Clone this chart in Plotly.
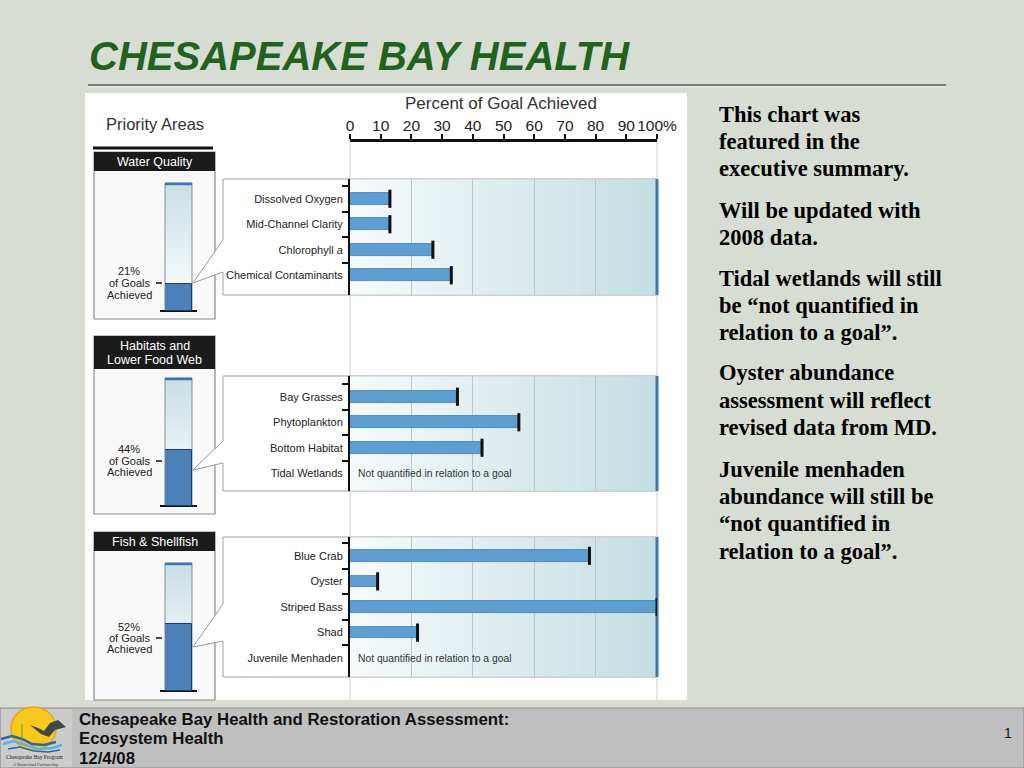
import plotly.graph_objects as go

# ---------------- data ----------------
wq_cats = ["Dissolved Oxygen", "Mid-Channel Clarity", "Chlorophyll <i>a</i>", "Chemical Contaminants"]
wq_vals = [13, 13, 27, 33]
hab_cats = ["Bay Grasses", "Phytoplankton", "Bottom Habitat", "Tidal Wetlands"]
hab_vals = [35, 55, 43, None]
fish_cats = ["Blue Crab", "Oyster", "Striped Bass", "Shad", "Juvenile Menhaden"]
fish_vals = [78, 9, 100, 22, None]
area_names = [["Water Quality"], ["Habitats and", "Lower Food Web"], ["Fish & Shellfish"]]
area_pcts = [21, 44, 52]
axis_ticks = [0, 10, 20, 30, 40, 50, 60, 70, 80, 90, 100]
axis_labels = ["0", "10", "20", "30", "40", "50", "60", "70", "80", "90", "100%"]
grid_ticks = [20, 40, 60, 80]
not_quant = "Not quantified in relation to a goal"
notes = [
    ["This chart was", "featured in the", "executive summary."],
    ["Will be updated with", "2008 data."],
    ["Tidal wetlands will still", "be \u201cnot quantified in", "relation to a goal\u201d."],
    ["Oyster abundance", "assessment will reflect", "revised data from MD."],
    ["Juvenile menhaden", "abundance will still be", "\u201cnot quantified in", "relation to a goal\u201d."],
]
footer_lines = ["Chesapeake Bay Health and Restoration Assessment:", "Ecosystem Health", "12/4/08"]

# ---------------- geometry / style ----------------
W, H = 1024, 768
SANS = "Liberation Sans, Arial, Helvetica, sans-serif"
SERIF = "Liberation Serif, Times New Roman, serif"
AX_X0, AX_X1 = 350, 657
panels = [(179, 295, 7, 7), (376, 491, 8, 5), (537, 677, 6, 6)]   # top, bottom, pad top, pad bottom (px)
gauges = [(183, 311), (378, 506), (563, 691)]
boxes = [(152, 319, 171), (336, 514, 369), (532, 700, 551)]
wedges = [((193, 283), (223, 240), (223, 272)),
          ((193, 470), (223, 441), (223, 463)),
          ((193, 647), (223, 604), (223, 641))]
pct_text_y = [(271, 283, 295), (449, 461, 472), (627, 638, 649)]

fig = go.Figure()


def px(x):
    return x / W


def py(y):
    return 1 - y / H


def hex2rgb(c):
    c = c.lstrip('#')
    return tuple(int(c[i:i + 2], 16) for i in (0, 2, 4))


def mix(c1, c2, t):
    a, b = hex2rgb(c1), hex2rgb(c2)
    return 'rgb(%d,%d,%d)' % tuple(round(a[i] + (b[i] - a[i]) * t) for i in range(3))


shapes = []
ann = []


def rect(x0, y0, x1, y1, fill=None, line=None, lw=1, layer='below'):
    shapes.append(dict(type='rect', xref='paper', yref='paper', x0=px(x0), x1=px(x1), y0=py(y1), y1=py(y0),
                       fillcolor=fill or 'rgba(0,0,0,0)',
                       line=dict(color=line or 'rgba(0,0,0,0)', width=lw if line else 0), layer=layer))


def seg(x0, y0, x1, y1, color, w, layer='below'):
    shapes.append(dict(type='line', xref='paper', yref='paper', x0=px(x0), y0=py(y0), x1=px(x1), y1=py(y1),
                       line=dict(color=color, width=w), layer=layer))


def path(pts, fill=None, line=None, lw=1, close=False, layer='below'):
    d = 'M ' + ' L '.join('%.5f %.5f' % (px(x), py(y)) for x, y in pts) + (' Z' if close else '')
    shapes.append(dict(type='path', xref='paper', yref='paper', path=d, fillcolor=fill or 'rgba(0,0,0,0)',
                       line=dict(color=line or 'rgba(0,0,0,0)', width=lw if line else 0), layer=layer))


def text(x, y, t, size, color='#222', xanchor='center', family=SANS, yanchor='middle'):
    ann.append(dict(xref='paper', yref='paper', x=px(x), y=py(y), text=t, showarrow=False,
                    font=dict(size=size, color=color, family=family), xanchor=xanchor, yanchor=yanchor))


# ---------------- background decorations ----------------
text(87, 56, "<b><i>CHESAPEAKE BAY HEALTH</i></b>", 40, '#22621f', xanchor='left')
seg(88, 85, 946, 85, '#5c5c5c', 1.5)
seg(88, 87, 946, 87, '#eef0ec', 1)

rect(85, 93, 687, 700, fill='white')
text(501, 104, "Percent of Goal Achieved", 17, '#333')
text(155, 124, "Priority Areas", 16.5, '#333')
seg(93, 148, 213, 148, '#111', 3)

seg(AX_X0, 140, AX_X0, 700, '#cfcfcf', 1)
seg(AX_X1, 140, AX_X1, 700, '#cfcfcf', 1)

# priority boxes
for (top, bot, hb), names, pct, (gt, gb), tys, wd in zip(boxes, area_names, area_pcts, gauges, pct_text_y, wedges):
    rect(94, top, 215, bot, fill='#f8f8f8', line='#8a8a8a', lw=1.2)
    rect(94, top, 215, hb, fill='#1b1b1b')
    if len(names) == 1:
        text(154.5, (top + hb) / 2 + 0.5, names[0], 12.5, 'white')
    else:
        text(154.5, top + 10, names[0], 12.5, 'white')
        text(154.5, top + 24, names[1], 12.5, 'white')
    n = 16
    for k in range(n):
        y0 = gt + (gb - gt) * k / n
        y1 = gt + (gb - gt) * (k + 1) / n + 0.6
        rect(165, y0, 192, y1, fill=mix('#c9e0e6', '#ffffff', k / (n - 1)))
    rect(165, gt, 192, gb, line='#8c8c8c', lw=1)
    seg(165, gt + 1, 192, gt + 1, '#3a76b0', 2.5)
    seg(160, gb, 197, gb, '#111', 2)
    text(129, tys[0], "%d%%" % pct, 11, '#222')
    text(129, tys[1], "of Goals", 11, '#222')
    text(129, tys[2], "Achieved", 11, '#222')
    seg(156, tys[1], 162, tys[1], '#111', 1.5)

# callout boxes with gradient plot areas
for (T, B, pt, pb), wd in zip(panels, wedges):
    rect(223, T, AX_X1, B, fill='white', line='#a0a0a0', lw=1)
    n = 40
    for k in range(n):
        x0 = AX_X0 + (AX_X1 - AX_X0) * k / n
        x1 = AX_X0 + (AX_X1 - AX_X0) * (k + 1) / n + 0.6
        rect(x0, T + 0.5, min(x1, AX_X1), B - 0.5, fill=mix('#f6fafb', '#c5dee2', k / (n - 1)))
    seg(AX_X1, T, AX_X1, B, '#3b77b1', 3)
    apex, p1, p2 = wd
    path([p1, apex, p2, (p2[0] + 1.5, p2[1]), (p1[0] + 1.5, p1[1])], fill='white', close=True)
    path([p1, apex, p2], line='#9a9a9a', lw=1)

# footer
rect(0, 708, 1024, 768, fill='#bfbfbf', line='#8c8c8c', lw=1)
rect(1, 709, 72, 767, fill='#cccccc')
shapes.append(dict(type='circle', xref='paper', yref='paper', x0=px(11), x1=px(56), y0=py(750), y1=py(707),
                   fillcolor='#f8c81c', line=dict(color='#eaa516', width=1.5), layer='below'))
path([(30, 725), (38, 728), (44, 731), (50, 723), (58, 720), (66, 727), (55, 730), (49, 737), (41, 734)],
     fill='#3f4a48', close=True)
path([(1, 739), (12, 736), (22, 739), (32, 744), (44, 745), (56, 742)], line='#2a64ad', lw=2.5)
path([(3, 744), (14, 741), (26, 745), (38, 749), (52, 748), (62, 745)], line='#5ab3e0', lw=2.5)
path([(8, 749), (20, 747), (34, 751), (48, 752), (60, 750)], line='#2a64ad', lw=1.5)
path([(22, 742), (22, 724)], line='#6f9a3a', lw=1)
text(35, 757, "Chesapeake Bay Program", 5.5, '#222', family=SERIF)
text(35, 764, "<i>A Watershed Partnership</i>", 4.5, '#333', family=SERIF)
for i, t in enumerate(footer_lines):
    text(77, 719 + 19.5 * i, "<b>%s</b>" % t, 16.8, '#111', xanchor='left')
text(1008, 733, "1", 14, '#111')

# right notes
note_y = [[114, 141, 168], [210, 237], [278, 305, 332], [373, 400, 427], [469, 496, 523, 551]]
for para, ys in zip(notes, note_y):
    for line, y in zip(para, ys):
        text(717, y, "<b>%s</b>" % line, 22.5, '#000', xanchor='left', family=SERIF)

# ---------------- traces ----------------
groups = [(wq_cats, wq_vals), (hab_cats, hab_vals), (fish_cats, fish_vals)]
layout_axes = {}
for i, ((cats, vals), (T, B, pt, pb)) in enumerate(zip(groups, panels)):
    s = '' if i == 0 else str(i + 1)
    xa, ya = 'x' + s, 'y' + s
    nc = len(cats)
    c = (B - T - pt - pb) / nc
    fig.add_trace(go.Bar(x=vals, y=cats, orientation='h', xaxis=xa, yaxis=ya, width=0.46,
                         marker=dict(color='#5e9ed0', line=dict(color='#3d7bb2', width=0.8)),
                         hoverinfo='x+y', showlegend=False))
    cx = [v for v in vals if v is not None]
    cy = [cat for cat, v in zip(cats, vals) if v is not None]
    fig.add_trace(go.Scatter(x=cx, y=cy, mode='markers', xaxis=xa, yaxis=ya, hoverinfo='skip',
                             marker=dict(symbol='line-ns', size=13, line=dict(width=3, color='#111')),
                             showlegend=False))
    for j, (cat, v) in enumerate(zip(cats, vals)):
        if v is None:
            ann.append(dict(xref=xa, yref=ya, x=2.0, y=j, text=not_quant, showarrow=False, xanchor='left',
                            font=dict(size=10.3, color='#333', family=SANS)))
    layout_axes['xaxis' + s] = dict(domain=[px(AX_X0), px(AX_X1)], range=[0, 100], anchor=ya,
                                    tickmode='array', tickvals=grid_ticks, showticklabels=False, ticks='',
                                    showgrid=True, gridcolor='#b7c7cb', gridwidth=1, zeroline=False,
                                    showline=False, fixedrange=True, automargin=False)
    layout_axes['yaxis' + s] = dict(domain=[py(B), py(T)], type='category', anchor=xa,
                                    categoryorder='array', categoryarray=cats,
                                    range=[nc - 0.5 + pb / c, -0.5 - pt / c],
                                    tickson='boundaries', ticks='outside', ticklen=6, tickwidth=2,
                                    tickcolor='#111', showline=True, linecolor='#111', linewidth=2,
                                    showgrid=False, zeroline=False, automargin=False, ticklabelstandoff=3,
                                    tickfont=dict(size=11, color='#222', family=SANS), fixedrange=True)

# top axis (overlay)
fig.add_trace(go.Scatter(x=[0], y=[wq_cats[0]], xaxis='x4', yaxis='y', mode='markers',
                         marker=dict(opacity=0), hoverinfo='skip', showlegend=False))
layout_axes['xaxis4'] = dict(overlaying='x', side='top', anchor='free', position=py(140),
                             domain=[px(AX_X0), px(AX_X1)], range=[0, 100], tickmode='array',
                             tickvals=axis_ticks, ticktext=axis_labels, ticks='outside', ticklen=5,
                             tickwidth=1.5, tickcolor='#111', showline=True, linewidth=3, linecolor='#111',
                             showgrid=False, zeroline=False, automargin=False, tickangle=0,
                             ticklabelstandoff=-3,
                             tickfont=dict(size=15.5, color='#222', family=SANS), fixedrange=True)

# gauges
for k, (pct, (gt, gb)) in enumerate(zip(area_pcts, gauges)):
    s = str(k + 5)
    fig.add_trace(go.Bar(x=[0], y=[pct], width=1, xaxis='x' + s, yaxis='y' + s,
                         marker=dict(color='#4b80b8', line=dict(color='#1f3d63', width=1)),
                         hoverinfo='y', showlegend=False))
    layout_axes['xaxis' + s] = dict(domain=[px(165), px(192)], range=[-0.5, 0.5], visible=False,
                                    anchor='y' + s, fixedrange=True, automargin=False)
    layout_axes['yaxis' + s] = dict(domain=[py(gb), py(gt)], range=[0, 100], visible=False,
                                    anchor='x' + s, fixedrange=True, automargin=False)

fig.update_layout(width=W, height=H, autosize=False,
                  margin=dict(l=0, r=0, t=0, b=0, pad=0, autoexpand=False),
                  paper_bgcolor='#d8ddd4', plot_bgcolor='rgba(0,0,0,0)',
                  showlegend=False, shapes=shapes, annotations=ann, bargap=0, **layout_axes)
fig.write_html("out.html", config={'displayModeBar': False},
               post_script="document.body.style.margin='0';document.body.style.padding='0';"
                           "document.body.style.overflow='hidden';")
